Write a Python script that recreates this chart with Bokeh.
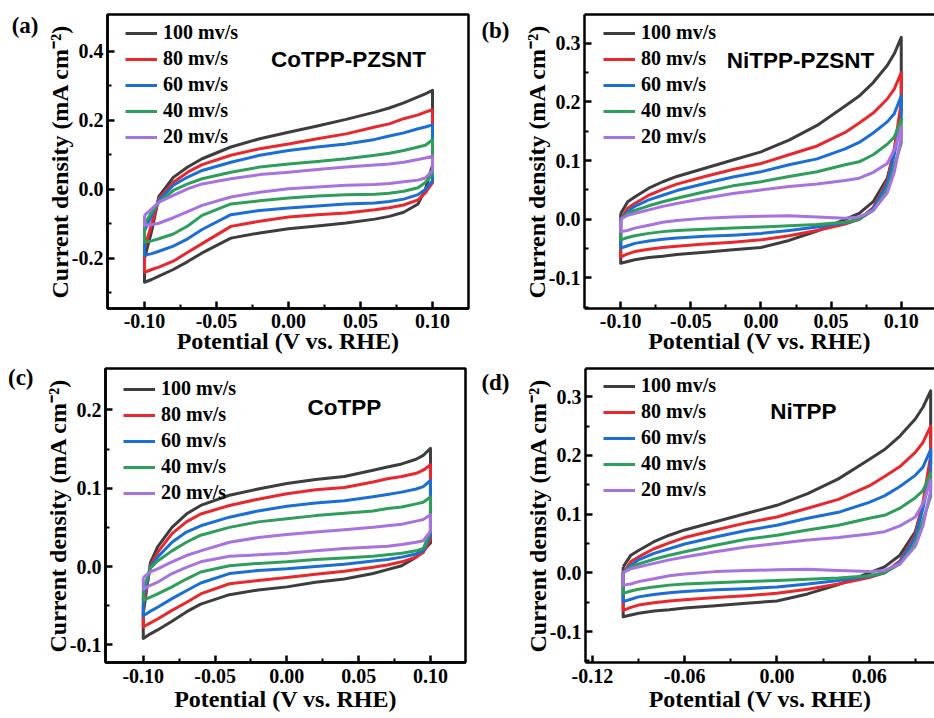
from bokeh.plotting import figure
from bokeh.layouts import column, row
from bokeh.models import (Range1d, FixedTicker, PrintfTickFormatter, Legend,
                          LegendItem, Label, LinearAxis)
from bokeh.embed import file_html
from bokeh.resources import INLINE

# ---------------- data ----------------
potential = [-0.1, -0.095, -0.09, -0.08, -0.07, -0.06, -0.04, -0.02, 0.0,
             0.02, 0.04, 0.06, 0.07, 0.08, 0.09, 0.095, 0.1]
scan_labels = ["100 mv/s", "80 mv/s", "60 mv/s", "40 mv/s", "20 mv/s"]
colors = ["#3d3d3d", "#e8282c", "#1a6ed8", "#2e9e5b", "#a873e0"]

# (a) CoTPP-PZSNT : anodic (up) and cathodic (dn) branches on the potential grid
a_up_100 = [-0.20, -0.12, -0.02, 0.035, 0.065, 0.089, 0.123, 0.147, 0.166, 0.184, 0.203, 0.224, 0.236, 0.251, 0.268, 0.277, 0.287]
a_dn_100 = [-0.269, -0.261, -0.251, -0.232, -0.209, -0.184, -0.141, -0.126, -0.114, -0.106, -0.097, -0.086, -0.078, -0.066, -0.042, 0.0, 0.07]
a_up_80 = [-0.17, -0.10, -0.027, 0.021, 0.050, 0.072, 0.099, 0.118, 0.132, 0.147, 0.161, 0.181, 0.190, 0.205, 0.216, 0.224, 0.231]
a_dn_80 = [-0.240, -0.232, -0.225, -0.208, -0.182, -0.157, -0.107, -0.092, -0.080, -0.073, -0.068, -0.059, -0.053, -0.045, -0.030, -0.010, 0.02]
a_up_60 = [-0.12, -0.075, -0.032, 0.012, 0.036, 0.055, 0.079, 0.099, 0.113, 0.123, 0.132, 0.145, 0.155, 0.164, 0.176, 0.181, 0.187]
a_dn_60 = [-0.191, -0.186, -0.179, -0.164, -0.143, -0.116, -0.073, -0.061, -0.054, -0.048, -0.042, -0.039, -0.035, -0.028, -0.015, 0.0, 0.025]
a_up_40 = [-0.10, -0.066, -0.037, -0.003, 0.016, 0.031, 0.050, 0.065, 0.074, 0.081, 0.089, 0.099, 0.105, 0.113, 0.123, 0.128, 0.144]
a_dn_40 = [-0.153, -0.149, -0.143, -0.129, -0.106, -0.075, -0.042, -0.033, -0.025, -0.019, -0.015, -0.014, -0.011, -0.005, 0.005, 0.02, 0.045]
a_up_20 = [-0.075, -0.056, -0.037, -0.017, 0.002, 0.016, 0.031, 0.043, 0.050, 0.058, 0.065, 0.071, 0.074, 0.079, 0.087, 0.091, 0.096]
a_dn_20 = [-0.104, -0.102, -0.098, -0.082, -0.064, -0.046, -0.022, -0.008, 0.002, 0.007, 0.012, 0.014, 0.017, 0.022, 0.027, 0.033, 0.055]

# (b) NiTPP-PZSNT and (d) NiTPP (the two panels show the same curves)
n_up_100 = [0.010, 0.030, 0.038, 0.053, 0.064, 0.073, 0.087, 0.101, 0.115, 0.135, 0.160, 0.193, 0.210, 0.233, 0.262, 0.282, 0.31]
n_dn_100 = [-0.075, -0.072, -0.069, -0.065, -0.063, -0.060, -0.056, -0.052, -0.048, -0.036, -0.020, 0.0, 0.010, 0.030, 0.070, 0.115, 0.185]
n_up_80 = [0.0, 0.019, 0.027, 0.041, 0.051, 0.060, 0.073, 0.085, 0.095, 0.110, 0.125, 0.148, 0.164, 0.181, 0.205, 0.222, 0.25]
n_dn_80 = [-0.064, -0.059, -0.055, -0.051, -0.048, -0.046, -0.042, -0.039, -0.035, -0.028, -0.019, -0.008, 0.0, 0.020, 0.065, 0.12, 0.20]
n_up_60 = [0.0, 0.013, 0.022, 0.033, 0.041, 0.049, 0.061, 0.072, 0.081, 0.093, 0.103, 0.120, 0.131, 0.147, 0.166, 0.180, 0.21]
n_dn_60 = [-0.049, -0.045, -0.041, -0.037, -0.034, -0.032, -0.029, -0.027, -0.024, -0.019, -0.013, -0.006, 0.0, 0.018, 0.06, 0.11, 0.17]
n_up_40 = [0.0, 0.010, 0.015, 0.023, 0.030, 0.036, 0.047, 0.057, 0.064, 0.073, 0.081, 0.093, 0.098, 0.110, 0.128, 0.140, 0.17]
n_dn_40 = [-0.035, -0.031, -0.028, -0.024, -0.021, -0.019, -0.017, -0.015, -0.013, -0.011, -0.009, -0.005, 0.0, 0.015, 0.05, 0.09, 0.13]
n_up_20 = [0.0, 0.007, 0.010, 0.016, 0.022, 0.027, 0.036, 0.044, 0.050, 0.056, 0.060, 0.066, 0.070, 0.080, 0.095, 0.118, 0.158]
n_dn_20 = [-0.021, -0.019, -0.015, -0.010, -0.005, -0.002, 0.002, 0.004, 0.005, 0.006, 0.004, 0.002, 0.004, 0.015, 0.045, 0.08, 0.14]

# (c) CoTPP
c_up_100 = [-0.06, 0.005, 0.025, 0.050, 0.067, 0.078, 0.091, 0.099, 0.106, 0.111, 0.115, 0.123, 0.127, 0.131, 0.137, 0.142, 0.151]
c_dn_100 = [-0.092, -0.086, -0.081, -0.070, -0.058, -0.048, -0.036, -0.030, -0.026, -0.020, -0.016, -0.009, -0.004, 0.001, 0.012, 0.020, 0.030]
c_up_80 = [-0.05, 0.001, 0.018, 0.042, 0.057, 0.067, 0.078, 0.086, 0.093, 0.098, 0.101, 0.108, 0.112, 0.115, 0.119, 0.123, 0.130]
c_dn_80 = [-0.077, -0.072, -0.067, -0.056, -0.046, -0.035, -0.022, -0.018, -0.014, -0.010, -0.006, -0.001, 0.002, 0.006, 0.012, 0.018, 0.035]
c_up_60 = [-0.04, -0.001, 0.012, 0.031, 0.044, 0.052, 0.063, 0.071, 0.077, 0.081, 0.084, 0.089, 0.092, 0.095, 0.099, 0.102, 0.110]
c_dn_60 = [-0.063, -0.057, -0.052, -0.041, -0.031, -0.021, -0.009, -0.005, -0.003, 0.0, 0.003, 0.007, 0.009, 0.012, 0.016, 0.020, 0.040]
c_up_40 = [-0.03, -0.002, 0.007, 0.020, 0.031, 0.040, 0.050, 0.057, 0.061, 0.065, 0.068, 0.071, 0.074, 0.076, 0.080, 0.082, 0.089]
c_dn_40 = [-0.043, -0.039, -0.035, -0.026, -0.016, -0.007, 0.001, 0.004, 0.006, 0.009, 0.011, 0.013, 0.015, 0.017, 0.020, 0.023, 0.045]
c_up_20 = [-0.014, -0.007, -0.003, 0.006, 0.014, 0.020, 0.031, 0.037, 0.041, 0.044, 0.047, 0.050, 0.052, 0.054, 0.058, 0.060, 0.066]
c_dn_20 = [-0.029, -0.024, -0.020, -0.009, -0.001, 0.006, 0.013, 0.015, 0.017, 0.020, 0.023, 0.025, 0.026, 0.028, 0.031, 0.033, 0.045]

# axis ticks
ticks_x_std = [-0.1, -0.05, 0.0, 0.05, 0.1]
minor_x_std = [-0.075, -0.025, 0.025, 0.075]
ticks_x_d = [-0.12, -0.06, 0.0, 0.06]
minor_x_d = [-0.09, -0.03, 0.03, 0.09]
ticks_y_a = [-0.2, 0.0, 0.2, 0.4]
minor_y_a = [-0.3, -0.1, 0.1, 0.3]
ticks_y_n = [-0.1, 0.0, 0.1, 0.2, 0.3]
minor_y_n = [-0.15, -0.05, 0.05, 0.15, 0.25]
ticks_y_c = [-0.1, 0.0, 0.1, 0.2]
minor_y_c = [-0.05, 0.05, 0.15]

SERIF = "Liberation Serif"
SANS = "Liberation Sans"
X_LABEL = "Potential (V vs. RHE)"
Y_LABEL = "Current density (mA cm\u207b\u00b2)"


def style_axis(ax, ticks, minor, fmt, label, tick_gap, standoff):
    ax.ticker = FixedTicker(ticks=ticks, minor_ticks=minor)
    ax.formatter = PrintfTickFormatter(format=fmt)
    ax.axis_line_width = 2.5
    ax.axis_line_color = "black"
    ax.major_tick_in = 7
    ax.major_tick_out = 0
    ax.minor_tick_in = 4
    ax.minor_tick_out = 0
    ax.major_tick_line_width = 2.5
    ax.minor_tick_line_width = 2
    ax.major_label_text_font = SERIF
    ax.major_label_text_font_style = "bold"
    ax.major_label_text_font_size = "20px"
    ax.major_label_text_color = "black"
    ax.major_label_standoff = tick_gap
    ax.axis_label = label
    ax.axis_label_text_font = SERIF
    ax.axis_label_text_font_style = "bold"
    ax.axis_label_text_font_size = "24px"
    ax.axis_label_text_color = "black"
    ax.axis_label_standoff = standoff


def panel(width, height, bl, br, bt, bb, xr, yr, xt, xm, xfmt, yt, ym,
          ups, dns, letter, letter_y, letter_gap, title, title_pos,
          legend_pos, open_right, xtick_gap, xlab_gap):
    p = figure(width=width, height=height, output_backend="svg",
               toolbar_location=None, x_range=Range1d(*xr), y_range=Range1d(*yr),
               min_border_left=bl, min_border_right=br, min_border_top=bt,
               min_border_bottom=bb)
    p.grid.visible = False
    p.background_fill_color = "white"
    p.border_fill_color = "white"
    style_axis(p.below[0], xt, xm, xfmt, X_LABEL, xtick_gap, xlab_gap)
    style_axis(p.left[0], yt, ym, "%.1f", Y_LABEL, 4, -4)
    if open_right:
        p.outline_line_color = None
        top = LinearAxis(ticker=FixedTicker(ticks=[]), axis_line_width=2.5,
                         axis_line_color="black",
                         major_tick_in=0, major_tick_out=0,
                         minor_tick_in=0, minor_tick_out=0)
        p.add_layout(top, "above")
    else:
        p.outline_line_color = "black"
        p.outline_line_width = 2.5
        p.outline_line_alpha = 1.0

    # panel letter, drawn as the single label of an outer left axis
    let_ax = LinearAxis(ticker=FixedTicker(ticks=[letter_y]),
                        formatter=PrintfTickFormatter(format=letter),
                        axis_line_color=None, major_tick_line_color=None,
                        minor_tick_line_color=None, major_tick_in=0,
                        major_tick_out=0, minor_tick_in=0, minor_tick_out=0,
                        major_label_standoff=letter_gap,
                        major_label_text_font=SERIF,
                        major_label_text_font_style="bold",
                        major_label_text_font_size="23px",
                        major_label_text_color="black")
    p.add_layout(let_ax, "left")

    items = []
    for up, dn, lab, col in zip(ups, dns, scan_labels, colors):
        xs = potential + potential[::-1] + [potential[0]]
        ys = up + dn[::-1] + [up[0]]
        r = p.line(xs, ys, line_color=col, line_width=3, line_join="round")
        items.append(LegendItem(label=lab, renderers=[r]))
    leg = Legend(items=items, location=legend_pos, orientation="vertical",
                 border_line_color=None, background_fill_alpha=0,
                 glyph_width=32, glyph_height=20, label_height=20, spacing=3,
                 padding=0, margin=0, label_standoff=6,
                 label_text_font=SERIF, label_text_font_style="bold",
                 label_text_font_size="20px", label_text_color="black")
    p.add_layout(leg)

    p.add_layout(Label(x=title_pos[0], y=title_pos[1], x_units="screen",
                       y_units="screen", text=title, text_font=SANS,
                       text_font_style="bold", text_font_size="22.5px",
                       text_color="black",
                       text_baseline="middle", text_align="center"))
    return p


pa = panel(478, 360, 107, 10, 14, 52, (-0.1257, 0.1250), (-0.345, 0.507),
           ticks_x_std, minor_x_std, "%.2f", ticks_y_a, minor_y_a,
           [a_up_100, a_up_80, a_up_60, a_up_40, a_up_20],
           [a_dn_100, a_dn_80, a_dn_60, a_dn_40, a_dn_20],
           "(a)", 0.475, 5, "CoTPP-PZSNT", (241, 249), (18, 160), False, 5, -3)
pb = panel(456, 360, 98, 0, 14, 52, (-0.1258, 0.1237), (-0.152, 0.349),
           ticks_x_std, minor_x_std, "%.2f", ticks_y_n, minor_y_n,
           [n_up_100, n_up_80, n_up_60, n_up_40, n_up_20],
           [n_dn_100, n_dn_80, n_dn_60, n_dn_40, n_dn_20],
           "(b)", 0.322, 11, "NiTPP-PZSNT", (216, 248), (19, 160), True, 5, -3)
pc = panel(478, 358, 105, 13, 8, 56, (-0.1263, 0.1244), (-0.1226, 0.2529),
           ticks_x_std, minor_x_std, "%.2f", ticks_y_c, minor_y_c,
           [c_up_100, c_up_80, c_up_60, c_up_40, c_up_20],
           [c_dn_100, c_dn_80, c_dn_60, c_dn_40, c_dn_20],
           "(c)", 0.2529, 8, "CoTPP", (239, 255), (18, 158), False, 6, 0)
pd_ = panel(456, 358, 106, 0, 8, 56, (-0.1245, 0.1025), (-0.1528, 0.348),
            ticks_x_d, minor_x_d, "%.2f", ticks_y_n, minor_y_n,
            [n_up_100, n_up_80, n_up_60, n_up_40, n_up_20],
            [n_dn_100, n_dn_80, n_dn_60, n_dn_40, n_dn_20],
            "(d)", 0.324, 12, "NiTPP", (218, 251), (18, 161), True, 6, 0)

layout = column(row(pa, pb, width=934, height=360),
                row(pc, pd_, width=934, height=358),
                width=934, height=718)
open("out.html", "w").write(file_html(layout, INLINE))
